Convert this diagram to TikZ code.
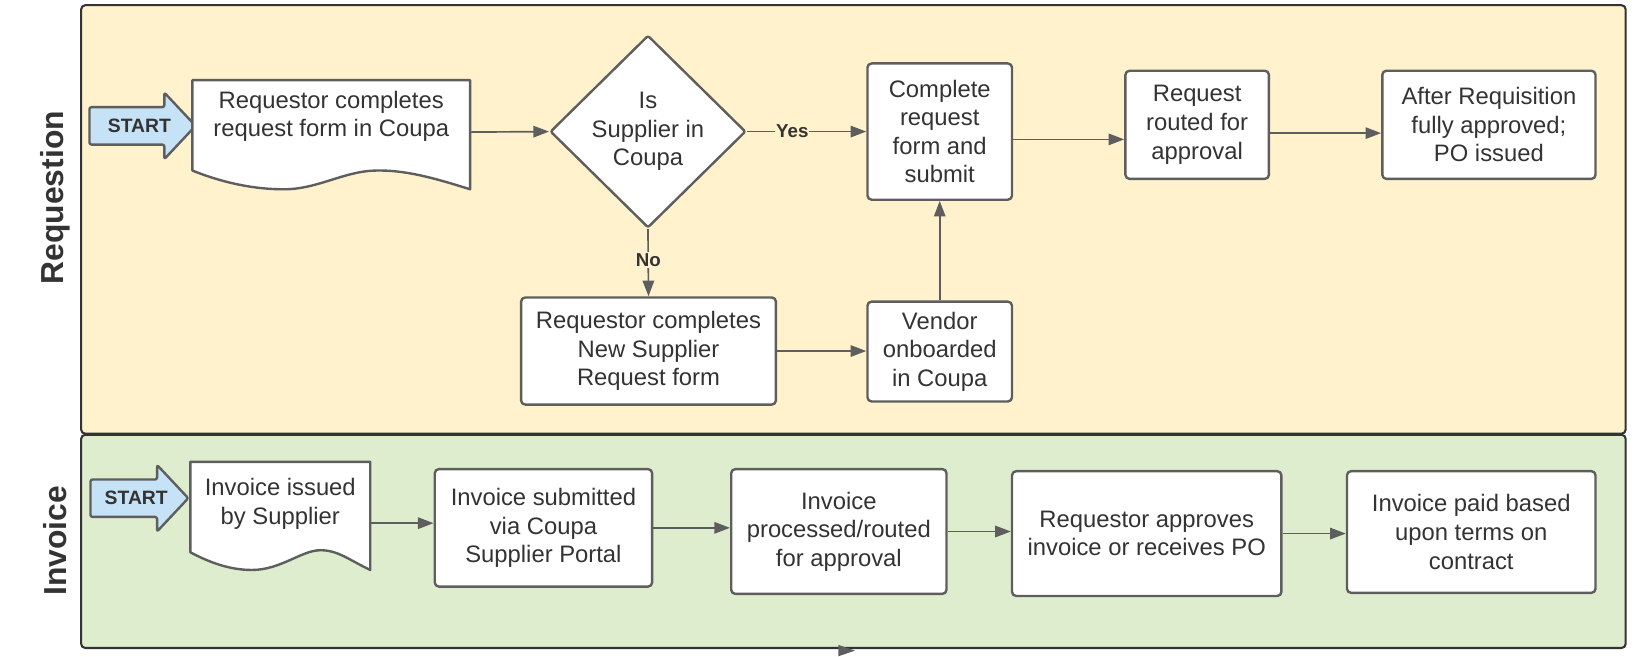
\documentclass[tikz,border=0pt]{standalone}
\usepackage{fontspec}
\setmainfont{Liberation Sans}
\usetikzlibrary{shapes.geometric,arrows.meta}
\definecolor{reqfill}{HTML}{FFF2CC}
\definecolor{invfill}{HTML}{DFEDCF}
\definecolor{startfill}{HTML}{C6E2F6}
\definecolor{edge}{HTML}{5E5E5E}
\definecolor{ink}{HTML}{333333}
\newcommand\txtfont{\fontsize{22.9}{27.5}\selectfont}
\begin{document}
\begin{tikzpicture}[x=1pt,y=-1pt,>={Triangle[length=15pt,width=11pt]},line join=round,
	box/.style={draw=edge,line width=2.3pt,fill=white,rounded corners=4pt,align=center,inner sep=0pt,text=ink,font=\txtfont},
	decide/.style={box,diamond,rounded corners=2pt},
	docbox/.style={inner sep=0pt},
	docline/.style={draw=edge,line width=2.3pt,fill=white},
	txt/.style={align=center,inner sep=0pt,text=ink,font=\txtfont},
	flow/.style={->,draw=edge,line width=1.6pt},
	lbl/.style={fill=reqfill,inner sep=1pt,text=ink,font=\bfseries\fontsize{18}{20}\selectfont},
	lane/.style={draw=ink,line width=2pt,rounded corners=4pt},
	lanetxt/.style={rotate=90,text=ink,font=\bfseries\fontsize{30.6}{34}\selectfont},
	startarr/.style={draw=edge,line width=2.3pt,fill=startfill,rounded corners=2pt},
	starttxt/.style={text=ink,inner sep=0pt,font=\bfseries\fontsize{18.6}{20}\selectfont}]
	\useasboundingbox (0,0) rectangle (1571,631);
	% swimlanes
	\draw[lane,fill=reqfill] (78,5) rectangle (1563,417);
	\draw[lane,fill=invfill] (78,418) rectangle (1563,623);
	\node[lanetxt] (reqlane) at (53,190) {Requestion};
	\node[lanetxt] (invlane) at (53,520) {Invoice};
	% start arrows
	\foreach \nm/\xa/\xb/\y in {startA/86/188/121,startB/87/181/479}{
		\draw[startarr] (\xa,\y-18) -- (\xb-30,\y-18) -- (\xb-30,\y-32) -- (\xb,\y) -- (\xb-30,\y+32) -- (\xb-30,\y+18) -- (\xa,\y+18) -- cycle;
		\node[starttxt] (\nm) at (\xa/2+\xb/2-3,\y) {START};}
	% requestion lane
	\node[docbox,minimum width=267pt,minimum height=100pt] (doc1) at (318.5,127) {};
	\draw[docline] (185,77) -- (452,77) -- (452,182) .. controls (420,172) and (390,163) .. (360,164) .. controls (330,165) and (305,182) .. (273,182) .. controls (240,182) and (210,174) .. (185,164) -- cycle;
	\node[txt] (doc1t) at ([yshift=15pt]doc1.center) {Requestor completes\\request form in Coupa};
	\node[decide,minimum width=188pt,minimum height=185pt] (dia) at (623,126.5) {Is\\Supplier in\\Coupa};
	\node[box,minimum width=139pt,minimum height=131pt] (complete) at (903.5,126.5) {Complete\\request\\form and\\submit};
	\node[box,minimum width=138pt,minimum height=104pt] (routed) at (1151,120) {Request\\routed for\\approval};
	\node[box,minimum width=205pt,minimum height=104pt] (after) at (1431.5,120) {After Requisition\\fully approved;\\PO issued};
	\node[box,minimum width=245pt,minimum height=103pt] (newsup) at (623.5,337.5) {Requestor completes\\New Supplier\\Request form};
	\node[box,minimum width=139pt,minimum height=96pt] (vendor) at (903.5,338) {Vendor\\onboarded\\in Coupa};
	\draw[flow] (doc1.east) -- (dia.west);
	\draw[flow] (dia.east) -- node[lbl,pos=0.38] (yes) {Yes} (complete.west);
	\draw[flow] (dia.south) -- node[lbl,pos=0.46] (no) {No} (newsup.north);
	\draw[flow] (newsup.east) -- (newsup.east -| vendor.west);
	\draw[flow] (vendor.north) -- (complete.south);
	\draw[flow] ([yshift=-7.5pt]complete.east) -- ([yshift=-7.5pt]complete.east -| routed.west);
	\draw[flow] ([yshift=-8pt]routed.east) -- ([yshift=-8pt]after.west);
	% invoice lane
	\node[docbox,minimum width=173pt,minimum height=118pt] (doc2) at (269.5,503) {};
	\draw[docline] (183,444) -- (356,444) -- (356,548) .. controls (335,538) and (325,529) .. (308,529) .. controls (290,529) and (270,548) .. (242,548) .. controls (220,548) and (200,540) .. (183,531) -- cycle;
	\node[txt] (doc2t) at ([yshift=18.5pt]doc2.center) {Invoice issued\\by Supplier};
	\node[box,minimum width=209pt,minimum height=113pt] (sub) at (522.5,507.5) {Invoice submitted\\via Coupa\\Supplier Portal};
	\node[box,minimum width=207pt,minimum height=120pt] (proc) at (806.5,511) {Invoice\\processed/routed\\for approval};
	\node[box,minimum width=259pt,minimum height=120pt] (appr) at (1102.5,513) {Requestor approves\\invoice or receives PO};
	\node[box,minimum width=239pt,minimum height=117pt] (paid) at (1414.5,511.5) {Invoice paid based\\upon terms on\\contract};
	\foreach \a/\b in {doc2/sub,sub/proc,proc/appr,appr/paid}
		\draw[flow] (\a.east) -- (\a.east -| \b.west);
	\fill[edge] (806,620) -- (822,625.5) -- (806,631) -- cycle;
\end{tikzpicture}
\end{document}
